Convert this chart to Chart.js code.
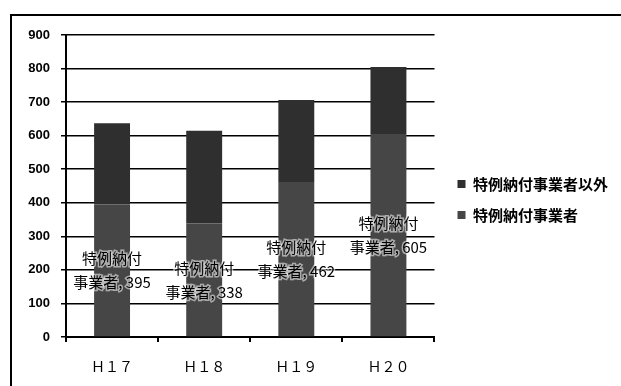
<!DOCTYPE html>
<html><head><meta charset="utf-8">
<script src="https://cdn.jsdelivr.net/npm/chart.js@4.4.1/dist/chart.umd.min.js"></script>
<style>html,body{margin:0;padding:0;background:#fff}#wrap{position:relative;width:621px;height:386px}</style>
</head><body><div id="wrap"><canvas id="c" width="621" height="386"></canvas></div>
<script>
const categories = ['Ｈ１７', 'Ｈ１８', 'Ｈ１９', 'Ｈ２０'];
const tokureiValues = [395, 338, 462, 605];
const otherValues = [242, 277, 244, 200];
const seriesNames = ['特例納付事業者', '特例納付事業者以外'];
const yTickLabels = ['0', '100', '200', '300', '400', '500', '600', '700', '800', '900'];

const framePlugin = {
  id: 'frame',
  beforeDraw(chart) {
    const ctx = chart.ctx;
    ctx.save();
    ctx.fillStyle = '#fff';
    ctx.fillRect(0, 0, chart.width, chart.height);
    ctx.strokeStyle = '#000';
    ctx.lineWidth = 2;
    ctx.strokeRect(11, 15, 700, 500);
    ctx.restore();
  }
};

const legendShift = {
  id: 'legendShift',
  afterLayout(chart) {
    const l = chart.legend;
    const dx = 7, dy = -11;
    l.left += dx; l.right += dx; l.top += dy; l.bottom += dy;
  }
};

const labelPlugin = {
  id: 'barLabels',
  afterDatasetsDraw(chart) {
    const meta = chart.getDatasetMeta(0);
    const ctx = chart.ctx;
    ctx.save();
    ctx.font = '15px "Noto Sans CJK JP"';
    ctx.textAlign = 'center';
    ctx.textBaseline = 'middle';
    meta.data.forEach((bar, i) => {
      const cy = (bar.y + bar.base) / 2;
      const name = seriesNames[0];
      const lines = [name.slice(0, 4), name.slice(4) + ', ' + tokureiValues[i]];
      lines.forEach((t, j) => {
        const y = cy + (j - 0.5) * 24;
        ctx.lineWidth = 3;
        ctx.strokeStyle = 'rgba(255,255,255,0.55)';
        ctx.strokeText(t, bar.x, y);
        ctx.fillStyle = '#000';
        ctx.fillText(t, bar.x, y);
      });
    });
    ctx.restore();
  }
};

new Chart(document.getElementById('c'), {
  type: 'bar',
  data: {
    labels: categories,
    datasets: [
      { label: seriesNames[0], data: tokureiValues, backgroundColor: '#464646' },
      { label: seriesNames[1], data: otherValues, backgroundColor: '#2f2f2f' }
    ]
  },
  options: {
    responsive: false,
    animation: false,
    devicePixelRatio: 1,
    categoryPercentage: 1,
    barPercentage: 0.39,
    layout: { padding: { top: 35, left: 0, right: 10, bottom: 0 } },
    plugins: {
      title: { display: false },
      tooltip: { enabled: false },
      legend: {
        position: 'right',
        reverse: true,
        maxWidth: 300,
        labels: {
          boxWidth: 8, boxHeight: 8, padding: 16, color: '#000',
          font: { family: '"Noto Sans CJK JP"', size: 15, weight: 'bold' }
        }
      }
    },
    scales: {
      x: {
        stacked: true,
        afterFit(s) { s.height = 49; },
        grid: { drawOnChartArea: false, drawTicks: true, tickLength: 5, color: '#000', lineWidth: 2, offset: true },
        border: { display: true, color: '#000', width: 2 },
        ticks: { color: '#000', padding: 16, font: { family: '"Noto Sans CJK JP"', size: 14 } }
      },
      y: {
        stacked: true,
        min: 0, max: 900,
        afterFit(s) { s.width = 66; },
        grid: { color: '#000', lineWidth: 1.5, tickLength: 5 },
        border: { display: true, color: '#000', width: 2 },
        ticks: {
          stepSize: 100, padding: 11, color: '#000',
          font: { family: '"Liberation Sans"', size: 13, weight: 'bold' },
          callback: (v, i) => yTickLabels[i]
        }
      }
    }
  },
  plugins: [framePlugin, legendShift, labelPlugin]
});
</script></body></html>
